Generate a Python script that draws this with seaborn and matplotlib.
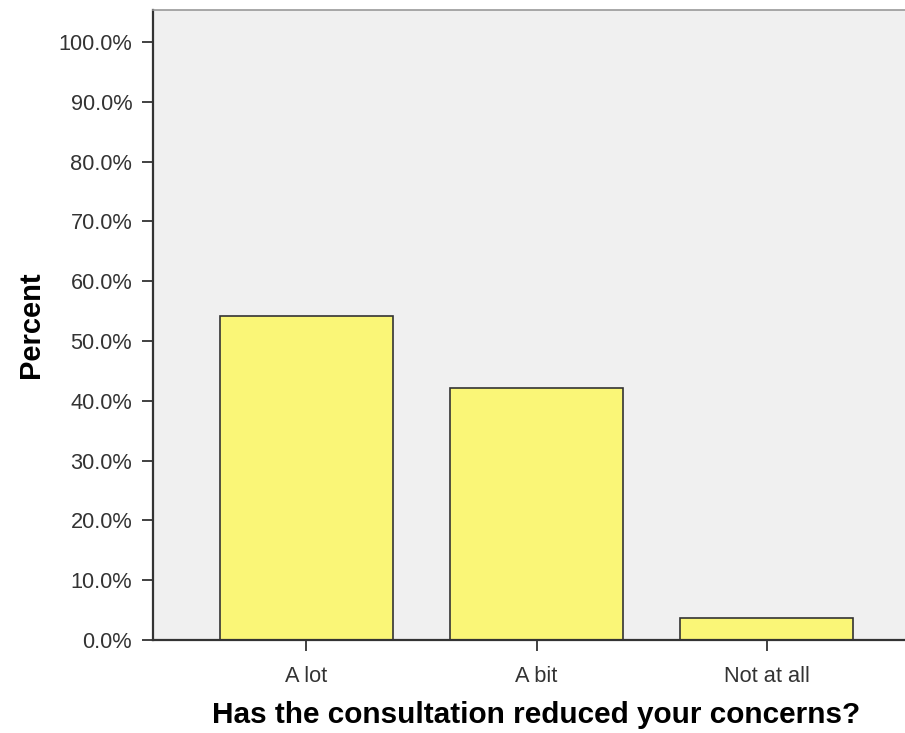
import pandas as pd
import seaborn as sns
import matplotlib.pyplot as plt
from matplotlib.ticker import FuncFormatter

# Data
categories = ["A lot", "A bit", "Not at all"]
percents = [54.2, 42.2, 3.6]

df = pd.DataFrame({"answer": categories, "percent": percents})

sns.set_style("white")
plt.rcParams["font.family"] = ["Liberation Sans", "DejaVu Sans"]

fig = plt.figure(figsize=(9.05, 7.33), dpi=100)
ax = fig.add_axes([153 / 905, 93 / 733, (920 - 153) / 905, 630 / 733])
ax.set_facecolor("#F0F0F0")

sns.barplot(data=df, x="answer", y="percent", ax=ax, width=0.75,
            color="#FAF677", saturation=1, edgecolor="#333333", linewidth=1.2)

ax.set_xlim(-0.667, 2.667)
ax.set_ylim(0, 105.35)
ax.set_yticks(range(0, 101, 10))
ax.yaxis.set_major_formatter(FuncFormatter(lambda v, p: f"{v:.1f}%"))

ax.tick_params(axis="both", which="major", labelsize=15.7, labelcolor="#333333",
               length=8, width=1.3, color="#333333", left=True, bottom=True)
ax.tick_params(axis="y", pad=7)
ax.tick_params(axis="x", pad=11)

ax.set_xlabel("Has the consultation reduced your concerns?", fontsize=21.4,
              fontweight="bold", color="black", labelpad=9.5)
ax.set_ylabel("Percent", fontsize=21, fontweight="bold", color="black", labelpad=10)

for side in ["left", "bottom"]:
    ax.spines[side].set_color("#333333")
    ax.spines[side].set_linewidth(1.6)
ax.spines["top"].set_color("#999999")
ax.spines["top"].set_linewidth(1.2)
ax.spines["right"].set_visible(False)

fig.savefig("out.png", dpi=100)
